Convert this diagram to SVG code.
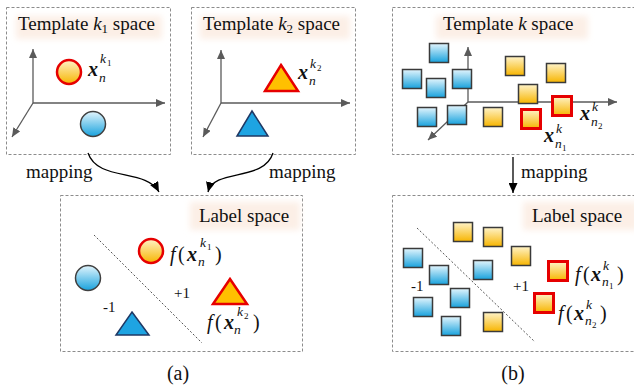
<svg xmlns="http://www.w3.org/2000/svg" width="634" height="386" viewBox="0 0 634 386">
<style>
  .box{fill:none;stroke:#8c8c8c;stroke-width:1;stroke-dasharray:3 2}
  .axis{fill:none;stroke:#5a5a5a;stroke-width:1.3;marker-end:url(#ax)}
  .sep{fill:none;stroke:#555;stroke-width:1;stroke-dasharray:2 2}
  text{font-family:'Liberation Serif','Times New Roman','DejaVu Serif',serif;fill:#111}
  .title{font-size:19px}
  .lab{font-size:15px}
  .cap{font-size:20px}
  .bx{font-weight:bold;font-style:italic;font-size:20px}
  .it{font-style:italic}
  .s14{font-size:13.5px}
  .s10{font-size:9px}
  .sqb{fill:url(#gb);stroke:#3a3a3a;stroke-width:1.5}
  .sqy{fill:url(#gy);stroke:#3a3a3a;stroke-width:1.5}
  .sqr{fill:url(#gy);stroke:#e60000;stroke-width:3}
  .cy{fill:url(#gy);stroke:#e60000;stroke-width:2.5}
  .cb{fill:url(#gb);stroke:#404040;stroke-width:1.5}
  .ty{fill:#ffc000;stroke:#e60000;stroke-width:2.5;stroke-linejoin:miter}
  .tb{fill:#1ea4e2;stroke:#1f3864;stroke-width:1.5}
  .hl{fill:#fcefe6;filter:url(#blur)}
  .conn{fill:none;stroke:#000;stroke-width:1.3;marker-end:url(#ar)}
</style>
<defs>
  <linearGradient id="gy" x1="0" y1="0" x2="0" y2="1">
    <stop offset="0" stop-color="#fff3c8"/>
    <stop offset="1" stop-color="#f7b500"/>
  </linearGradient>
  <linearGradient id="gb" x1="0" y1="0" x2="0" y2="1">
    <stop offset="0" stop-color="#e2f5fd"/>
    <stop offset="1" stop-color="#18a2dd"/>
  </linearGradient>
  <filter id="blur" x="-10%" y="-30%" width="120%" height="160%">
    <feGaussianBlur stdDeviation="3"/>
  </filter>
  <marker id="ax" markerUnits="userSpaceOnUse" markerWidth="10" markerHeight="8" refX="9" refY="4" orient="auto">
    <path d="M0,0 L9,4 L0,8 Z" fill="#5a5a5a"/>
  </marker>
  <marker id="ar" markerUnits="userSpaceOnUse" markerWidth="11" markerHeight="9" refX="10" refY="4.5" orient="auto">
    <path d="M0,0 L10,4.5 L0,9 Z" fill="#000"/>
  </marker>
</defs>

<g id="template-k1">
  <rect class="box" x="6.5" y="7.5" width="164" height="147"/>
  <rect class="hl" x="16" y="16" width="146" height="23"/>
  <text class="title" x="18" y="30">Template <tspan class="it">k</tspan><tspan font-size="13" dy="3">1</tspan><tspan dy="-3"> space</tspan></text>
  <path class="axis" d="M33,103 V49"/>
  <path class="axis" d="M33,103 H165"/>
  <path class="axis" d="M33,103 L12,137"/>
  <circle class="cy" cx="69" cy="72" r="12"/>
  <circle class="cb" cx="93" cy="124" r="12.5"/>
  <text><tspan class="bx" x="88" y="76">x</tspan><tspan class="it s14" x="99" y="82">n</tspan><tspan class="it s14" x="100" y="63">k</tspan><tspan class="s10" x="107" y="66">1</tspan></text>
</g>

<g id="template-k2">
  <rect class="box" x="191.5" y="7.5" width="164" height="147"/>
  <rect class="hl" x="200" y="16" width="150" height="23"/>
  <text class="title" x="203" y="30">Template <tspan class="it">k</tspan><tspan font-size="13" dy="3">2</tspan><tspan dy="-3"> space</tspan></text>
  <path class="axis" d="M221,103 V50"/>
  <path class="axis" d="M221,103 H350"/>
  <path class="axis" d="M221,103 L203,137"/>
  <path class="ty" d="M281,65 L298,91 L265,91 Z"/>
  <path class="tb" d="M252,111 L268,136 L237,136 Z"/>
  <text><tspan class="bx" x="298" y="79">x</tspan><tspan class="it s14" x="309" y="85">n</tspan><tspan class="it s14" x="310" y="68">k</tspan><tspan class="s10" x="317" y="71">2</tspan></text>
</g>

<g id="template-k">
  <rect class="box" x="392.5" y="7.5" width="260" height="147"/>
  <rect class="hl" x="436" y="16" width="152" height="23"/>
  <text class="title" x="443" y="30">Template  <tspan class="it">k</tspan> space</text>
  <path class="axis" d="M468,102 V47"/>
  <path class="axis" d="M468,102 H617"/>
  <path class="axis" d="M468,102 L428,140"/>
  <rect class="sqb" x="429.5" y="43.5" width="19" height="19"/>
  <rect class="sqb" x="402.5" y="69.5" width="19" height="19"/>
  <rect class="sqb" x="426.5" y="78.5" width="19" height="19"/>
  <rect class="sqb" x="452.5" y="69.5" width="19" height="19"/>
  <rect class="sqb" x="417.5" y="107.5" width="19" height="19"/>
  <rect class="sqb" x="447.5" y="105.5" width="19" height="19"/>
  <rect class="sqy" x="505.5" y="56.5" width="19" height="19"/>
  <rect class="sqy" x="546.5" y="63.5" width="19" height="19"/>
  <rect class="sqy" x="518.5" y="84.5" width="19" height="19"/>
  <rect class="sqy" x="483.5" y="107.5" width="19" height="19"/>
  <rect class="sqr" x="552.5" y="96.5" width="19" height="19"/>
  <rect class="sqr" x="521.5" y="109.5" width="19" height="19"/>
  <text><tspan class="bx" x="580" y="120">x</tspan><tspan class="it s14" x="591" y="126">n</tspan><tspan class="s10" x="598" y="129">2</tspan><tspan class="it s14" x="592" y="111">k</tspan></text>
  <text><tspan class="bx" x="544" y="142">x</tspan><tspan class="it s14" x="555" y="148">n</tspan><tspan class="s10" x="562" y="151">1</tspan><tspan class="it s14" x="556" y="133">k</tspan></text>
</g>

<g id="label-space-a">
  <rect class="box" x="60.5" y="195.5" width="242" height="156"/>
  <rect class="hl" x="190" y="202" width="110" height="28"/>
  <text class="title" x="199" y="222">Label space</text>
  <path class="sep" d="M94,235 L202,343"/>
  <circle class="cy" cx="151" cy="251" r="12"/>
  <circle class="cb" cx="88" cy="278" r="12.5"/>
  <path class="ty" d="M230,279 L247,304 L213,304 Z"/>
  <path class="tb" d="M132,312 L149,335 L116,335 Z"/>
  <text class="lab" x="103" y="312">-1</text>
  <text class="lab" x="174" y="298">+1</text>
  <text><tspan class="it cap" x="170" y="261">f</tspan><tspan class="cap" x="178" y="261">(</tspan><tspan class="bx" x="187" y="261">x</tspan><tspan class="it s14" x="198" y="266">n</tspan><tspan class="it s14" x="200" y="247">k</tspan><tspan class="s10" x="207" y="250">1</tspan><tspan class="cap" x="215" y="261">)</tspan></text>
  <text><tspan class="it cap" x="207" y="329">f</tspan><tspan class="cap" x="215" y="329">(</tspan><tspan class="bx" x="224" y="329">x</tspan><tspan class="it s14" x="234" y="334">n</tspan><tspan class="it s14" x="237" y="316">k</tspan><tspan class="s10" x="244" y="319">2</tspan><tspan class="cap" x="253" y="329">)</tspan></text>
  <text class="cap" x="178" y="380" text-anchor="middle">(a)</text>
</g>

<g id="label-space-b">
  <rect class="box" x="392.5" y="195.5" width="260" height="156"/>
  <rect class="hl" x="523" y="202" width="115" height="28"/>
  <text class="title" x="532" y="222">Label space</text>
  <path class="sep" d="M417,228 L535,342"/>
  <rect class="sqb" x="403.5" y="248.5" width="19" height="19"/>
  <rect class="sqb" x="429.5" y="265.5" width="19" height="19"/>
  <rect class="sqb" x="473.5" y="260.5" width="19" height="19"/>
  <rect class="sqb" x="450.5" y="288.5" width="19" height="19"/>
  <rect class="sqb" x="413.5" y="297.5" width="19" height="19"/>
  <rect class="sqb" x="441.5" y="316.5" width="19" height="19"/>
  <rect class="sqy" x="453.5" y="222.5" width="19" height="19"/>
  <rect class="sqy" x="483.5" y="227.5" width="19" height="19"/>
  <rect class="sqy" x="511.5" y="246.5" width="19" height="19"/>
  <rect class="sqy" x="483.5" y="312.5" width="19" height="19"/>
  <rect class="sqr" x="548.5" y="261.5" width="19" height="19"/>
  <rect class="sqr" x="534.5" y="293.5" width="19" height="19"/>
  <text class="lab" x="411" y="291">-1</text>
  <text class="lab" x="513" y="291">+1</text>
  <text><tspan class="it cap" x="575" y="281">f</tspan><tspan class="cap" x="583" y="281">(</tspan><tspan class="bx" x="591" y="281">x</tspan><tspan class="it s14" x="602" y="286">n</tspan><tspan class="s10" x="609" y="289">1</tspan><tspan class="it s14" x="603" y="270">k</tspan><tspan class="cap" x="617" y="281">)</tspan></text>
  <text><tspan class="it cap" x="558" y="320">f</tspan><tspan class="cap" x="566" y="320">(</tspan><tspan class="bx" x="574" y="320">x</tspan><tspan class="it s14" x="585" y="325">n</tspan><tspan class="s10" x="592" y="328">2</tspan><tspan class="it s14" x="586" y="309">k</tspan><tspan class="cap" x="600" y="320">)</tspan></text>
  <text class="cap" x="513" y="380" text-anchor="middle">(b)</text>
</g>

<g id="connectors">
  <path class="conn" d="M88,153 C98,182 146,168 159,192"/>
  <path class="conn" d="M273,153 C264,182 214,168 208,192"/>
  <path class="conn" d="M513,157 V193"/>
  <text class="title" x="26" y="178">mapping</text>
  <text class="title" x="269" y="178">mapping</text>
  <text class="title" x="521" y="178">mapping</text>
</g>
</svg>
